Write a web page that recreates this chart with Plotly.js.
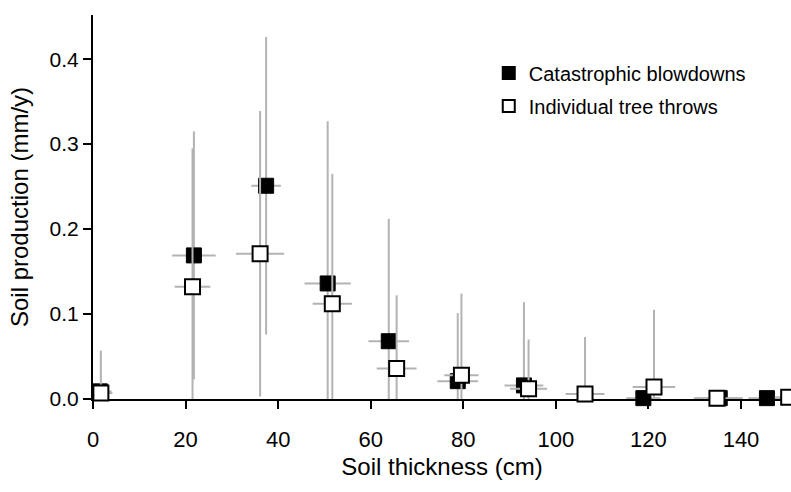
<!DOCTYPE html>
<html>
<head>
<meta charset="utf-8">
<script src="https://cdn.plot.ly/plotly-3.0.1.min.js"></script>
<style>html,body{margin:0;padding:0;background:#fff;}#chart{width:791px;height:492px;}</style>
</head>
<body>
<div id="chart"></div>
<script>
// Catastrophic blowdowns
var catX    = [1.5, 21.8, 37.4, 50.7, 63.9, 78.8, 93.1, 118.9, 135.4, 145.6];
var catY    = [0.009, 0.169, 0.251, 0.136, 0.068, 0.021, 0.016, 0.001, 0.001, 0.001];
var catErrY = [0.0, 0.146, 0.175, 0.191, 0.144, 0.080, 0.098, 0.0, 0.0, 0.0];
var catErrX = [2.5, 4.7, 3.2, 5.0, 4.4, 4.4, 4.2, 3.7, 5.0, 4.0];

// Individual tree throws
var indX    = [1.7, 21.5, 36.1, 51.7, 65.6, 79.6, 94.1, 106.3, 121.2, 134.8, 150.3];
var indY    = [0.007, 0.132, 0.171, 0.112, 0.036, 0.028, 0.012, 0.006, 0.014, 0.001, 0.002];
var indErrY = [0.05, 0.163, 0.168, 0.153, 0.086, 0.096, 0.058, 0.067, 0.091, 0.0, 0.0];
var indErrX = [2.5, 3.85, 5.2, 4.25, 4.3, 3.7, 4.0, 4.2, 4.6, 5.0, 3.0];

var xTicks = [0, 20, 40, 60, 80, 100, 120, 140];
var yTicks = [0.0, 0.1, 0.2, 0.3, 0.4];

function clipMinus(err, y) { return err.map(function (e, i) { return Math.min(e, y[i]); }); }

var errColor = '#b3b3b3';
var fontFam = '"Liberation Sans", Arial, sans-serif';

var traces = [
  {
    type: 'scatter', mode: 'markers', name: 'Catastrophic blowdowns',
    x: catX, y: catY, legendgroup: 'a',
    marker: { symbol: 'square', size: 15, color: '#000000', line: { color: '#000000', width: 1 } },
    error_y: { type: 'data', symmetric: false, array: catErrY, arrayminus: clipMinus(catErrY, catY), color: errColor, thickness: 2, width: 0 },
    error_x: { type: 'data', array: catErrX, color: errColor, thickness: 2, width: 0 },
    cliponaxis: false
  },
  {
    type: 'scatter', mode: 'markers', name: 'Individual tree throws',
    x: indX, y: indY, legendgroup: 'b',
    marker: { symbol: 'square', size: 15, color: '#ffffff', line: { color: '#000000', width: 2 } },
    error_y: { type: 'data', symmetric: false, array: indErrY, arrayminus: clipMinus(indErrY, indY), color: errColor, thickness: 2, width: 0 },
    error_x: { type: 'data', array: indErrX, color: errColor, thickness: 2, width: 0 },
    cliponaxis: false
  }
];

var layout = {
  width: 791, height: 492,
  margin: { l: 93, r: 0, t: 15, b: 93 },
  paper_bgcolor: '#ffffff', plot_bgcolor: '#ffffff',
  font: { family: fontFam, color: '#000000', size: 20 },
  showlegend: true,
  legend: {
    x: 0.567, y: 0.9, xanchor: 'left', yanchor: 'top',
    font: { family: fontFam, size: 20, color: '#000000' },
    itemsizing: 'constant', itemwidth: 30,
    traceorder: 'grouped', tracegroupgap: 4,
    bgcolor: 'rgba(0,0,0,0)'
  },
  xaxis: {
    range: [0, 150.8], tickvals: xTicks, ticktext: xTicks.map(String),
    showgrid: false, zeroline: false, showline: true, linecolor: '#000000', linewidth: 2,
    ticks: 'outside', ticklen: 8, tickwidth: 2, tickcolor: '#000000',
    ticklabelstandoff: 12,
    tickfont: { family: fontFam, size: 22, color: '#000000' },
    title: { text: 'Soil thickness (cm)', font: { family: fontFam, size: 24, color: '#000000' }, standoff: 7 },
    layer: 'below traces', fixedrange: true
  },
  yaxis: {
    range: [0, 0.452], tickvals: yTicks, ticktext: yTicks.map(function (v) { return v.toFixed(1); }),
    showgrid: false, zeroline: false, showline: true, linecolor: '#000000', linewidth: 2,
    ticks: 'outside', ticklen: 8, tickwidth: 2, tickcolor: '#000000',
    tickfont: { family: fontFam, size: 21, color: '#000000' },
    title: { text: 'Soil production (mm/y)', font: { family: fontFam, size: 24, color: '#000000' }, standoff: 14 },
    layer: 'below traces', fixedrange: true
  }
};

Plotly.newPlot('chart', traces, layout, { displayModeBar: false, staticPlot: true });
</script>
</body>
</html>
